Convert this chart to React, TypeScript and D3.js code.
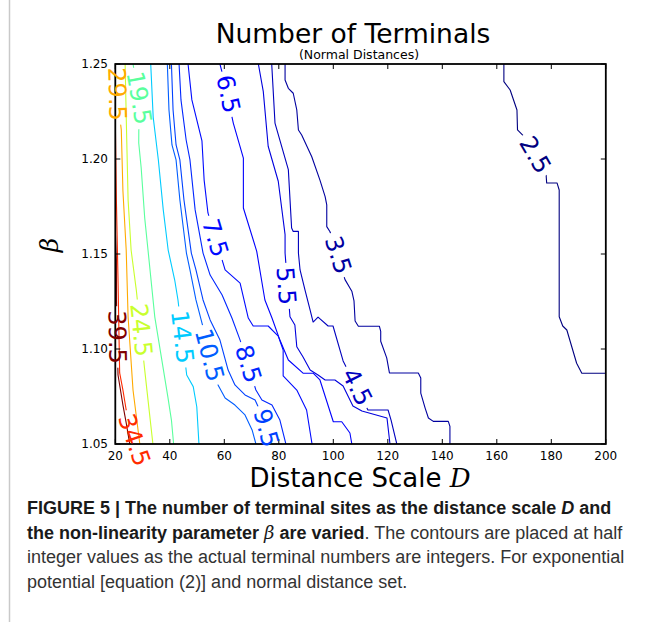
import React from 'react';
import * as d3 from 'd3';

// Contour levels (half-integer terminal counts)
const levels = [2.5, 3.5, 4.5, 5.5, 6.5, 7.5, 8.5, 9.5, 10.5, 14.5, 19.5, 24.5, 29.5, 34.5, 39.5];

// Contour polylines as [D, beta] pairs, one array per level
const c2_5 = [[162.6,1.25],[162.6,1.2407],[164.9,1.2363],[167.4,1.2258],[167.6,1.2153],[169.5,1.2126],[178.1,1.1916],[178.3,1.1874],[182.1,1.1874],[182.9,1.1837],[182.9,1.117],[184.2,1.1121],[185.7,1.11],[189.3,1.0925],[191.2,1.0872],[200,1.0872]];
const c3_5 = [[82.3,1.25],[82.3,1.2416],[83.5,1.2372],[85.3,1.2346],[86.6,1.2258],[87.2,1.2153],[88.4,1.2126],[92.1,1.2012],[95.1,1.1889],[97.0,1.1802],[97.6,1.1758],[97.6,1.1644],[98.8,1.1617],[104.3,1.1365],[106.8,1.1304],[107.6,1.1253],[108.0,1.1147],[109.2,1.112],[116.9,1.112],[117.4,1.1093],[117.4,1.1041],[119.6,1.0953],[120.6,1.0874],[131.2,1.0874],[132.1,1.0847],[132.1,1.0768],[133.7,1.0689],[134.9,1.0637],[136.7,1.0619],[142.2,1.0619],[142.8,1.0593],[142.8,1.05]];
const c4_5 = [[77.4,1.25],[78.6,1.2189],[83.5,1.1944],[84.7,1.1637],[85.3,1.1619],[87.2,1.1619],[87.2,1.1505],[87.8,1.1416],[89.6,1.1311],[91.5,1.1205],[92.6,1.1142],[94.4,1.1168],[98.1,1.1121],[99.9,1.1121],[103.6,1.0937],[112.7,1.0679],[120.1,1.0679],[121.2,1.0626],[123.3,1.05]];
const c5_5 = [[72.5,1.25],[74.3,1.2356],[76.1,1.2067],[79.8,1.1883],[82.3,1.1602],[82.3,1.1505],[84.1,1.117],[85.9,1.1126],[86.6,1.1012],[88.9,1.0958],[91.5,1.0889],[94.4,1.0863],[97.0,1.0837],[100.6,1.0837],[103.6,1.0805],[107.2,1.07],[110.5,1.0674],[119.7,1.0637],[120.8,1.05]];
const c6_5 = [[58.4,1.25],[59.9,1.2416],[63.3,1.2189],[67.0,1.2005],[67.0,1.1742],[71.9,1.1514],[74.9,1.1258],[77.5,1.1163],[80.4,1.1047],[83.5,1.0942],[89.0,1.0872],[92.7,1.0872],[95.1,1.0837],[100.0,1.0617],[103.1,1.0617],[106.1,1.0558],[106.8,1.05]];
const c7_5 = [[46.7,1.25],[48.1,1.2311],[51.8,1.2095],[52.6,1.1889],[54.0,1.1716],[60.3,1.1416],[65.8,1.1347],[68.8,1.1163],[70.6,1.1121],[76.1,1.1121],[79.8,1.1068],[81.6,1.0995],[81.6,1.0858],[86.6,1.0784],[90.2,1.0679],[92.2,1.05]];
const c8_5 = [[43.4,1.25],[44.1,1.2311],[46.0,1.21],[47.4,1.1995],[49.3,1.1732],[52.2,1.1505],[54.8,1.1389],[59.2,1.1284],[62.8,1.1163],[65.8,1.1047],[71.6,1.0784],[73.8,1.0732],[77.5,1.0705],[80.4,1.0626],[82.6,1.05]];
const c9_5 = [[40.6,1.25],[41.2,1.2258],[42.3,1.2074],[43.7,1.1995],[45.2,1.1784],[47.9,1.1505],[49.6,1.1416],[52.2,1.1258],[54.8,1.1153],[58.4,1.1047],[61.4,1.0889],[63.9,1.0811],[67.6,1.0758],[71.3,1.0732],[73.8,1.0653],[76.8,1.05]];
const c10_5 = [[39.1,1.25],[39.7,1.2258],[40.8,1.2074],[42.3,1.1995],[43.7,1.1784],[46.1,1.1505],[47.4,1.1416],[49.6,1.1258],[57.7,1.0811],[60.3,1.0742],[63.9,1.0705],[67.6,1.0653],[70.2,1.0574],[71.6,1.05]];
const c14_5 = [[33.0,1.25],[33.9,1.2221],[35.8,1.1995],[37.6,1.1732],[39.4,1.1521],[41.8,1.1363],[43.0,1.1258],[46.2,1.0863],[48.6,1.0802],[49.9,1.0696],[50.7,1.05]];
const c19_5 = [[26.5,1.25],[28.7,1.2321],[28.6,1.2084],[29.5,1.1953],[30.8,1.1689],[32.0,1.1521],[34.5,1.1168],[37.5,1.0905],[39.3,1.0747],[40.6,1.0626],[41.4,1.05]];
const c24_5 = [[23.6,1.25],[24.1,1.2163],[24.7,1.1784],[25.8,1.1521],[27.7,1.1311],[30.8,1.0889],[32.0,1.0732],[33.8,1.05]];
const c29_5 = [[20.3,1.25],[20.6,1.2342],[22.2,1.2153],[22.8,1.1832],[24.0,1.1521],[24.7,1.1168],[26.5,1.0784],[29.0,1.05]];
const c34_5 = [[20.0,1.2205],[20.4,1.1784],[21.0,1.1363],[21.6,1.0874],[22.8,1.0784],[24.0,1.0679],[25.8,1.0574],[27.6,1.05]];
const c39_5 = [[20.0,1.1626],[20.4,1.1468],[20.44,1.1258],[21.0,1.0863],[22.8,1.0705],[24.0,1.0611],[25.3,1.05]];

const contourLines = [c2_5, c3_5, c4_5, c5_5, c6_5, c7_5, c8_5, c9_5, c10_5, c14_5, c19_5, c24_5, c29_5, c34_5, c39_5];

// Inline label anchors (D, beta), one per level
const labelD = [174.0, 101.7, 108.7, 82.6, 61.4, 56.6, 68.7, 75.3, 54.5, 44.5, 28.7, 29.4, 20.6, 26.9, 20.6];
const labelBeta = [1.2021, 1.1495, 1.08, 1.1332, 1.2342, 1.1584, 1.0921, 1.0584, 1.0968, 1.1063, 1.2321, 1.11, 1.2342, 1.0521, 1.1063];

const xTicks = [20, 40, 60, 80, 100, 120, 140, 160, 180, 200];
const yTicks = [1.05, 1.10, 1.15, 1.20, 1.25];

const W = 655;
const H = 622;
const plot = { left: 115.3, right: 605.8, top: 64, bottom: 444 };

// matplotlib "jet" colormap
const jetR = d3.scaleLinear<number>().domain([0, 0.35, 0.66, 0.89, 1]).range([0, 0, 1, 1, 0.5]).clamp(true);
const jetG = d3.scaleLinear<number>().domain([0, 0.125, 0.375, 0.64, 0.91, 1]).range([0, 0, 1, 1, 0, 0]).clamp(true);
const jetB = d3.scaleLinear<number>().domain([0, 0.11, 0.34, 0.65, 1]).range([0.5, 1, 1, 0, 0]).clamp(true);
const jet = (t: number) => d3.rgb(jetR(t) * 255, jetG(t) * 255, jetB(t) * 255).formatHex();

const LABEL_FONT = 24;
const CAPTION_Y = 514;

export default function App() {
  const x = d3.scaleLinear().domain([20, 200]).range([plot.left, plot.right]);
  const y = d3.scaleLinear().domain([1.05, 1.25]).range([plot.bottom, plot.top]);
  const color = d3.scaleLinear().domain([levels[0], levels[levels.length - 1]]).range([0, 1]);
  const line = d3.line<number[]>().x(d => x(d[0])).y(d => y(d[1]));

  const labels = levels.map((lv, i) => {
    const px = x(labelD[i]);
    const py = y(labelBeta[i]);
    const pts = contourLines[i].map(d => [x(d[0]), y(d[1])]);
    // direction of the nearest segment sets the label rotation
    let best = Infinity;
    let ang = 0;
    for (let k = 0; k < pts.length - 1; k++) {
      const [x1, y1] = pts[k];
      const [x2, y2] = pts[k + 1];
      const dx = x2 - x1, dy = y2 - y1;
      const len2 = dx * dx + dy * dy || 1;
      let t = ((px - x1) * dx + (py - y1) * dy) / len2;
      t = Math.max(0, Math.min(1, t));
      const qx = x1 + t * dx, qy = y1 + t * dy;
      const dist = Math.hypot(px - qx, py - qy);
      if (dist < best) {
        best = dist;
        ang = (Math.atan2(dy, dx) * 180) / Math.PI;
      }
    }
    if (ang > 90) ang -= 180;
    if (ang < -90) ang += 180;
    const text = d3.format('.1f')(lv);
    const digits = text.replace('.', '').length;
    const width = LABEL_FONT * (0.636 * digits + 0.318);
    return { px, py, ang, text, width, col: jet(color(lv)) };
  });

  const fmtY = d3.format('.2f');

  return (
    <svg width={W} height={H} style={{ position: 'absolute', left: 0, top: 0, background: '#fff' }}
      fontFamily="'DejaVu Sans', sans-serif">
      <defs>
        <clipPath id="plot-clip">
          <rect x={plot.left} y={plot.top} width={plot.right - plot.left} height={plot.bottom - plot.top} />
        </clipPath>
        {labels.map((lb, i) => (
          <mask id={`gap-${i}`} key={i} maskUnits="userSpaceOnUse" x={0} y={0} width={W} height={H}>
            <rect x={0} y={0} width={W} height={H} fill="#fff" />
            <rect x={-lb.width / 2 - 4} y={-LABEL_FONT * 0.42} width={lb.width + 8} height={LABEL_FONT * 0.84}
              fill="#000" transform={`translate(${lb.px},${lb.py}) rotate(${lb.ang})`} />
          </mask>
        ))}
      </defs>

      <rect x={0} y={0} width={W} height={H} fill="#fff" />
      <line x1={9.5} x2={9.5} y1={0} y2={H} stroke="#c9c9c9" strokeWidth={1.5} />

      {/* Title */}
      <text x={353} y={42.5} fontSize={26.5} textAnchor="middle" fill="#000">Number of Terminals</text>
      <text x={359} y={59} fontSize={12.5} textAnchor="middle" fill="#000">(Normal Distances)</text>

      {/* Contours */}
      <g clipPath="url(#plot-clip)">
        {contourLines.map((pts, i) => (
          <g mask={`url(#gap-${i})`} key={i}>
            <path d={line(pts) || ''} fill="none" stroke={labels[i].col} strokeWidth={1.1} strokeLinejoin="round" />
          </g>
        ))}
      </g>

      {/* Frame and ticks */}
      <rect x={plot.left} y={plot.top} width={plot.right - plot.left} height={plot.bottom - plot.top}
        fill="none" stroke="#000" strokeWidth={1.8} />
      {xTicks.map(t => (
        <g key={`x${t}`}>
          <line x1={x(t)} x2={x(t)} y1={plot.bottom} y2={plot.bottom - 5} stroke="#000" strokeWidth={1} />
          <line x1={x(t)} x2={x(t)} y1={plot.top} y2={plot.top + 5} stroke="#000" strokeWidth={1} />
          <text x={x(t)} y={460} fontSize={12} textAnchor="middle" fill="#000">{t}</text>
        </g>
      ))}
      {yTicks.map(t => (
        <g key={`y${t}`}>
          <line x1={plot.left} x2={plot.left + 5} y1={y(t)} y2={y(t)} stroke="#000" strokeWidth={1} />
          <line x1={plot.right} x2={plot.right - 5} y1={y(t)} y2={y(t)} stroke="#000" strokeWidth={1} />
          <text x={108} y={y(t) + 4.3} fontSize={12} textAnchor="end" fill="#000">{fmtY(t)}</text>
        </g>
      ))}

      {/* Contour labels */}
      {labels.map((lb, i) => (
        <text key={`l${i}`} fontSize={LABEL_FONT} fill={lb.col} textAnchor="middle" dominantBaseline="central"
          transform={`translate(${lb.px},${lb.py}) rotate(${lb.ang})`}>{lb.text}</text>
      ))}

      {/* Axis labels */}
      <text x={360} y={487} fontSize={26} textAnchor="middle" fill="#000">
        Distance Scale <tspan fontFamily="'DejaVu Serif', serif" fontStyle="italic">D</tspan>
      </text>
      <text transform="translate(58,245) rotate(-90)" fontSize={25} textAnchor="middle" fill="#000"
        fontFamily="'DejaVu Serif', serif" fontStyle="italic">β</text>

      {/* Caption */}
      <g fontFamily="'Liberation Sans', Arial, sans-serif" fontSize={18}>
        <text x={27} y={CAPTION_Y} fill="#1a1a1a" fontWeight="bold">
          FIGURE 5 | The number of terminal sites as the distance scale <tspan fontStyle="italic">D</tspan> and
        </text>
        <text x={27} y={CAPTION_Y + 24.5} fill="#1a1a1a">
          <tspan fontWeight="bold">the non-linearity parameter </tspan>
          <tspan fontFamily="'DejaVu Serif', serif" fontStyle="italic">β</tspan>
          <tspan fontWeight="bold"> are varied</tspan>
          <tspan fill="#333">. The contours are placed at half</tspan>
        </text>
        <text x={27} y={CAPTION_Y + 49} fill="#333">integer values as the actual terminal numbers are integers. For exponential</text>
        <text x={27} y={CAPTION_Y + 73.5} fill="#333">potential [equation (2)] and normal distance set.</text>
      </g>
    </svg>
  );
}
